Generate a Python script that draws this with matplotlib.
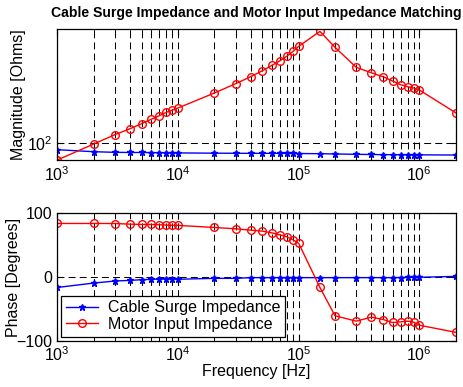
import matplotlib
matplotlib.use('Agg')
import matplotlib.pyplot as plt
from matplotlib.ticker import LogLocator, NullLocator, LogFormatterSciNotation

plt.rcParams['font.family'] = ['Liberation Sans', 'DejaVu Sans']
plt.rcParams['font.size'] = 11.5
plt.rcParams['mathtext.fontset'] = 'custom'
plt.rcParams['mathtext.rm'] = 'Liberation Sans'
plt.rcParams['lines.scale_dashes'] = False

# frequency points [Hz]
freq = [1e3, 2e3, 3e3, 4e3, 5e3, 6e3, 7e3, 8e3, 9e3, 1e4,
        2e4, 3e4, 4e4, 5e4, 6e4, 7e4, 8e4, 9e4, 1e5, 1.5e5,
        2e5, 3e5, 4e5, 5e5, 6e5, 7e5, 8e5, 9e5, 1e6, 2e6]

# magnitude [Ohms]
cable_mag = [91.6, 89.2, 88.5, 88.3, 88.3, 88.2, 88.0, 88.0, 87.9, 87.8,
             87.5, 87.4, 87.3, 87.3, 87.3, 87.2, 87.2, 87.2, 87.1, 86.9,
             86.6, 86.2, 86.0, 85.8, 85.8, 85.7, 85.7, 85.6, 85.6, 85.4]
motor_mag = [80.0, 98.7, 111.6, 120.7, 129.0, 136.7, 143.3, 149.8, 154.5, 158.6,
             193.2, 218.3, 239.4, 259.0, 278.0, 295.4, 314.3, 334.3, 357.1, 435.0,
             352.5, 270.9, 252.3, 239.4, 226.3, 215.5, 209.9, 206.3, 201.0, 149.0]

# phase [degrees]
cable_ph = [-16.4, -9.5, -6.3, -5.3, -4.2, -3.7, -3.2, -3.2, -3.2, -3.5,
            -2.1, -2.1, -1.0, -1.0, -1.0, -1.0, -1.0, -1.0, -1.0, -1.0,
            -1.0, -1.0, -1.0, -1.0, -1.0, -0.8, -0.6, -0.5, -0.4, 1.0]
motor_ph = [84.1, 84.1, 84.0, 83.0, 82.5, 82.5, 82.0, 81.5, 81.0, 81.0,
            77.8, 75.7, 73.5, 72.0, 69.3, 66.1, 63.0, 58.2, 52.9, -16.4,
            -60.8, -69.3, -63.0, -66.7, -71.4, -70.4, -69.3, -70.9, -75.7, -86.8]

grid_kw = dict(color='black', linewidth=0.75, linestyle=(0, (5, 3)))


def style_axes(ax):
    ax.set_xscale('log')
    ax.set_xlim(1e3, 2e6)
    ax.xaxis.set_major_locator(LogLocator(base=10))
    ax.xaxis.set_minor_locator(LogLocator(base=10, subs=range(2, 10)))
    ax.xaxis.set_major_formatter(LogFormatterSciNotation())
    ax.tick_params(which='both', direction='in', top=True, right=True)
    ax.tick_params(which='major', length=4)
    ax.tick_params(which='minor', length=2.5)
    ax.grid(True, which='both', axis='x', **grid_kw)
    ax.grid(True, which='major', axis='y', **grid_kw)
    for s in ax.spines.values():
        s.set_linewidth(0.9)


fig = plt.figure(figsize=(4.63, 3.87), dpi=100)
ax1 = fig.add_axes([0.1238, 0.5866, 0.8604, 0.3377])
ax2 = fig.add_axes([0.1238, 0.1196, 0.8604, 0.3292])

# magnitude
ax1.plot(freq, cable_mag, 'b-*', markersize=5, linewidth=1)
ax1.plot(freq, motor_mag, 'r-o', markersize=5.5, markerfacecolor='none', linewidth=1)
style_axes(ax1)
ax1.set_yscale('log')
ax1.set_ylim(80, 447)
ax1.set_yticks([100])
ax1.yaxis.set_minor_locator(NullLocator())
ax1.yaxis.set_major_formatter(LogFormatterSciNotation())
ax1.set_ylabel('Magnitude [Ohms]')
ax1.yaxis.set_label_coords(-0.078, 0.5)
ax1.set_title('Cable Surge Impedance and Motor Input Impedance Matching',
              fontsize=10.1, fontweight='bold', pad=9)

# phase
ax2.plot(freq, cable_ph, 'b-*', markersize=5, linewidth=1, label='Cable Surge Impedance')
ax2.plot(freq, motor_ph, 'r-o', markersize=5.5, markerfacecolor='none', linewidth=1,
         label='Motor Input Impedance')
style_axes(ax2)
ax2.set_ylim(-100, 100)
ax2.set_yticks([-100, 0, 100])
ax2.set_ylabel('Phase [Degrees]')
ax2.yaxis.set_label_coords(-0.091, 0.5)
ax2.set_xlabel('Frequency [Hz]', labelpad=0)
leg = ax2.legend(loc='lower left', fancybox=False, edgecolor='black', framealpha=1,
                 borderaxespad=0.25, handlelength=2.0, borderpad=0.3,
                 labelspacing=0.1, handletextpad=0.6)
leg.get_frame().set_linewidth(0.9)

fig.savefig('out.png', dpi=100)
